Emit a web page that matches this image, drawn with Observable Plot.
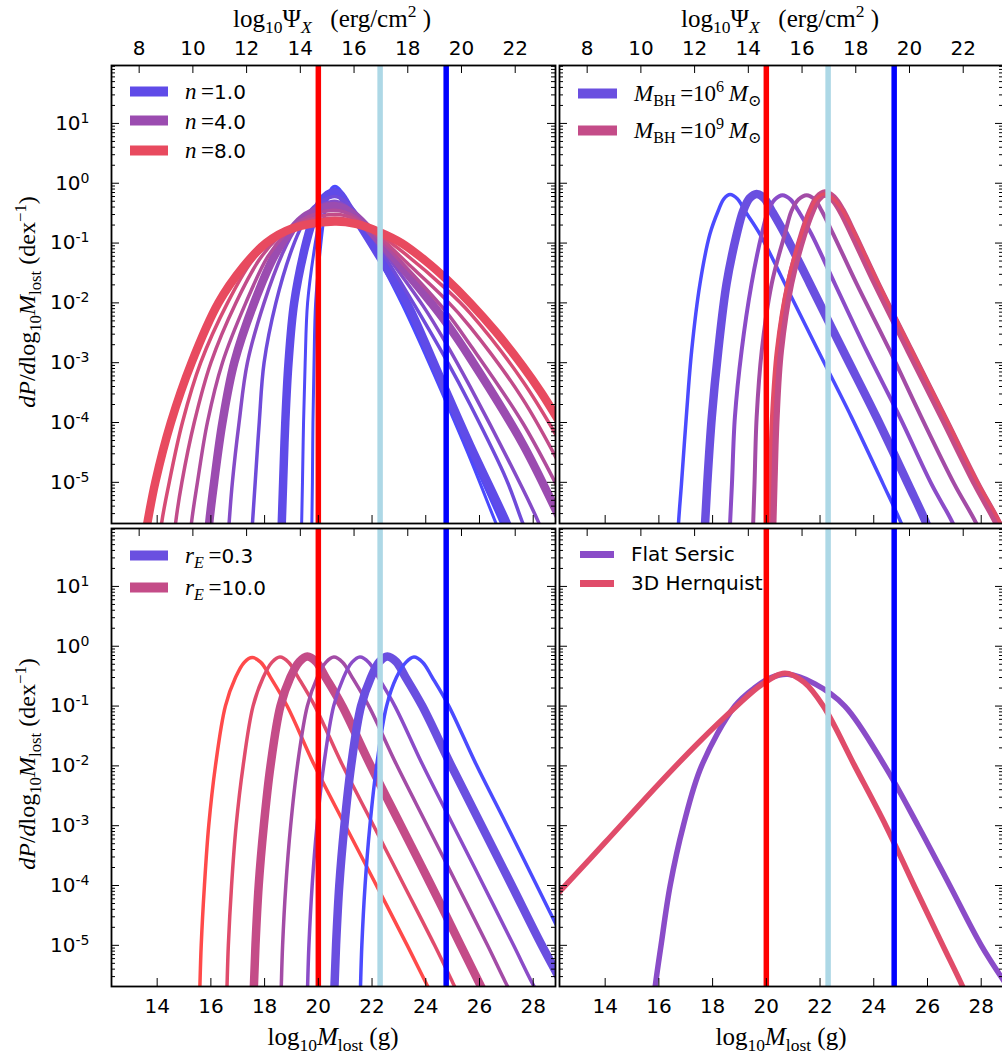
<!DOCTYPE html>
<html><head><meta charset="utf-8">
<script src="https://cdn.jsdelivr.net/npm/d3@7"></script>
<script src="https://cdn.jsdelivr.net/npm/@observablehq/plot@0.6"></script>
<style>
html,body{margin:0;padding:0;background:#fff;overflow:hidden;}
#wrap{position:relative;width:1002px;height:1059px;overflow:hidden;background:#fff;}
.panel{position:absolute;}
.m{font-family:"Liberation Serif","DejaVu Serif",serif;}
.s{font-family:"DejaVu Sans",sans-serif;}
.lbl{position:absolute;white-space:nowrap;color:#000;line-height:1;}
.lbl sub,.lbl sup,.row sub,.row sup{font-size:0.7em;line-height:0;}
.row{position:absolute;white-space:nowrap;display:flex;align-items:center;transform:translateY(-50%);line-height:1;}
.sw{display:inline-block;}
</style></head><body><div id="wrap"></div>
<script>
// ================= DATA =================
// shared axes
const xDomain = [12.3, 28.83];            // log10 M_lost (g)
const yDomain = [2.05e-6, 93];            // dP/dlog10 M_lost
const xTickValues = [14, 16, 18, 20, 22, 24, 26, 28];
const psiTickValues = [8, 10, 12, 14, 16, 18, 20, 22];
const psiShift = 5.33;                    // log10 M_lost - log10 Psi_X
const yMajorTicks = [1e-5, 1e-4, 1e-3, 1e-2, 1e-1, 1e0, 1e1];
const markerValues = [20.0, 22.3, 24.76]; // vertical reference lines

// Panel A (top-left): Sersic index n ; points are [log10 M_lost, log10 dP/dlogM]
const nSeries = ["n<1 a", "n<1 b", "n=1.0", "n=2", "n=3", "n=4.0", "n=5", "n=6", "n=7", "n=8.0"];
const nCurves = [
 [[19.74,-6.2],[19.76,-5.67],[19.78,-5],[19.8,-4],[19.84,-3],[19.9,-2],[20.09,-1.03],[20.23,-0.52],[20.38,-0.2],[20.5,-0.08],[20.62,-0.05],[20.75,-0.08],[20.9,-0.17],[21.1,-0.33],[21.5,-0.64],[22.3,-1.3],[23.15,-2.05],[24.0,-2.88],[24.76,-3.66],[25.65,-4.6],[26.6,-5.67],[26.9,-6.0]],
 [[19.36,-6.2],[19.38,-5.67],[19.41,-5],[19.45,-4],[19.51,-3],[19.6,-2],[19.87,-1.05],[20.07,-0.56],[20.25,-0.27],[20.42,-0.13],[20.6,-0.09],[20.75,-0.12],[20.9,-0.2],[21.1,-0.36],[21.5,-0.66],[22.3,-1.27],[23.25,-2.05],[24.1,-2.92],[24.76,-3.6],[25.65,-4.52],[26.8,-5.67],[27.1,-6.0]],
 [[18.6,-6.2],[18.64,-5.67],[18.69,-5],[18.77,-4],[18.89,-3],[19.1,-2],[19.5,-1.08],[19.8,-0.61],[20.07,-0.33],[20.35,-0.19],[20.6,-0.15],[20.8,-0.18],[20.95,-0.27],[21.1,-0.38],[21.5,-0.66],[22.3,-1.24],[23.35,-2.05],[24.2,-2.9],[24.76,-3.48],[25.65,-4.38],[27.0,-5.67],[27.3,-6.0]],
 [[17.48,-6.2],[17.55,-5.67],[17.65,-5],[17.8,-4],[17.98,-3],[18.42,-2],[19.01,-1.11],[19.44,-0.665],[19.83,-0.4],[20.6,-0.22],[21.0,-0.3],[21.5,-0.55],[22.3,-1.1],[23.6,-2.05],[24.76,-2.95],[25.65,-3.7],[27.0,-4.95],[27.6,-5.67],[27.9,-6.0]],
 [[16.6,-6.2],[16.68,-5.67],[16.8,-5],[17.05,-4],[17.36,-3],[17.98,-2],[18.69,-1.15],[19.2,-0.725],[19.68,-0.47],[20.6,-0.3],[21.0,-0.37],[21.6,-0.62],[22.3,-1.05],[23.9,-2.05],[24.76,-2.68],[25.65,-3.4],[27.6,-5.1],[28.2,-5.67],[28.5,-6.0]],
 [[15.85,-6.2],[15.94,-5.67],[16.12,-5],[16.43,-4],[16.87,-3],[17.61,-2],[18.38,-1.2],[18.98,-0.79],[19.55,-0.54],[20.6,-0.38],[21.3,-0.52],[22.3,-0.98],[23.2,-1.45],[24.2,-2.0],[24.76,-2.33],[25.65,-2.92],[27.6,-4.35],[28.83,-5.45],[29.1,-5.7]],
 [[15.18,-6.2],[15.28,-5.67],[15.5,-5],[15.87,-4],[16.43,-3],[17.3,-2],[18.1,-1.24],[18.75,-0.86],[19.4,-0.61],[20.6,-0.45],[21.4,-0.57],[22.3,-0.95],[23.3,-1.42],[24.76,-2.15],[25.65,-2.7],[27.6,-4.0],[29.1,-5.25]],
 [[14.58,-6.2],[14.69,-5.67],[14.92,-5],[15.38,-4],[16.0,-3],[16.93,-2],[17.8,-1.28],[18.5,-0.91],[19.25,-0.68],[20.6,-0.52],[21.4,-0.61],[22.3,-0.91],[23.3,-1.33],[24.76,-1.95],[25.65,-2.4],[27.6,-3.6],[29.1,-4.8]],
 [[14.05,-6.2],[14.17,-5.67],[14.45,-5],[14.94,-4],[15.62,-3],[16.62,-2],[17.5,-1.32],[18.28,-0.96],[19.1,-0.73],[20.6,-0.58],[21.4,-0.65],[22.3,-0.87],[23.2,-1.17],[24.76,-1.77],[25.65,-2.17],[27.6,-3.3],[29.1,-4.4]],
 [[13.45,-6.2],[13.64,-5.67],[13.93,-5.0],[14.51,-4.0],[15.28,-3.0],[16.28,-2.0],[17.2,-1.4],[18.05,-1.0],[19.0,-0.76],[20.6,-0.64],[21.4,-0.68],[22.3,-0.82],[23.1,-1.0],[24.0,-1.3],[24.76,-1.6],[25.65,-2.0],[26.6,-2.48],[27.6,-3.05],[28.3,-3.5],[29.1,-4.08]]
];

// Panel B (top-right): black hole mass
const mbhSeries = ["1e6", "1e6 thick", "1e7", "1e8", "1e9 thick", "1e9"];
const mbhCurves = [
 [[16.68,-6.2],[16.73,-5.69],[16.84,-5.03],[17.02,-3.91],[17.22,-2.80],[17.53,-1.68],[17.9,-0.85],[18.21,-0.46],[18.42,-0.26],[18.65,-0.19],[18.92,-0.26],[19.2,-0.46],[19.76,-0.85],[20.69,-1.68],[21.93,-2.80],[23.17,-3.91],[24.35,-5.03],[25.03,-5.69],[25.4,-6.1]],
 [[17.68,-6.2],[17.72,-5.69],[17.8,-5.03],[17.97,-3.91],[18.21,-2.80],[18.52,-1.68],[18.9,-0.85],[19.14,-0.46],[19.38,-0.25],[19.64,-0.18],[19.92,-0.25],[20.2,-0.46],[20.69,-0.85],[21.62,-1.68],[22.86,-2.80],[24.1,-3.91],[25.28,-5.03],[25.96,-5.69],[26.3,-6.1]],
 [[18.6,-6.2],[18.65,-5.69],[18.72,-5.03],[18.83,-3.91],[19.08,-2.80],[19.45,-1.68],[19.83,-0.85],[20.07,-0.46],[20.32,-0.27],[20.6,-0.2],[20.9,-0.27],[21.19,-0.46],[21.68,-0.85],[22.55,-1.68],[23.73,-2.80],[24.97,-3.91],[26.15,-5.03],[26.95,-5.69],[27.3,-6.1]],
 [[19.47,-6.2],[19.51,-5.69],[19.56,-5.03],[19.64,-3.91],[19.83,-2.80],[20.2,-1.68],[20.69,-0.85],[20.94,-0.46],[21.2,-0.27],[21.5,-0.2],[21.8,-0.27],[22.06,-0.46],[22.49,-0.85],[23.36,-1.68],[24.6,-2.80],[25.77,-3.91],[27.0,-5.03],[27.82,-5.69],[28.2,-6.1]],
 [[20.18,-6.2],[20.22,-5.69],[20.26,-5.03],[20.34,-3.91],[20.5,-2.80],[20.88,-1.68],[21.37,-0.85],[21.68,-0.46],[21.92,-0.25],[22.18,-0.17],[22.48,-0.25],[22.8,-0.46],[23.23,-0.85],[24.1,-1.68],[25.34,-2.80],[26.58,-3.91],[27.82,-5.03],[28.62,-5.69],[29.0,-6.1]],
 [[20.04,-6.2],[20.08,-5.69],[20.12,-5.03],[20.2,-3.91],[20.38,-2.80],[20.78,-1.68],[21.3,-0.85],[21.62,-0.46],[21.87,-0.26],[22.15,-0.18],[22.5,-0.26],[22.85,-0.46],[23.3,-0.85],[24.18,-1.68],[25.42,-2.80],[26.66,-3.91],[27.9,-5.03],[28.72,-5.69],[29.1,-6.1]]
];

// Panel C (bottom-left): r_E
const reSeries = ["r_E a", "r_E b", "r_E=10.0", "r_E c", "r_E d", "r_E=0.3", "r_E e"];
const reCurves = [
 [[15.56,-6.2],[15.59,-5.7],[15.64,-5.0],[15.76,-4],[15.92,-3],[16.17,-2],[16.54,-1],[16.92,-0.52],[17.24,-0.27],[17.54,-0.19],[17.86,-0.27],[18.22,-0.52],[18.84,-1],[19.83,-1.97],[20.95,-2.95],[22.13,-3.97],[23.31,-5.0],[24.0,-5.62],[24.3,-5.9]],
 [[16.57,-6.2],[16.6,-5.7],[16.65,-5],[16.77,-4],[16.94,-3],[17.2,-2],[17.57,-1],[17.95,-0.52],[18.27,-0.27],[18.57,-0.18],[18.9,-0.27],[19.25,-0.52],[19.87,-1],[20.88,-1.97],[22.0,-2.95],[23.16,-3.97],[24.33,-5.0],[25.0,-5.62],[25.3,-5.9]],
 [[17.57,-6.2],[17.6,-5.7],[17.66,-5],[17.78,-4],[17.97,-3],[18.22,-2],[18.59,-1],[18.96,-0.52],[19.29,-0.26],[19.59,-0.17],[19.92,-0.26],[20.27,-0.52],[20.89,-1],[21.92,-1.97],[23.02,-2.95],[24.17,-3.97],[25.3,-5.0],[25.98,-5.62],[26.3,-5.9]],
 [[18.59,-6.2],[18.62,-5.7],[18.67,-5],[18.79,-4],[18.97,-3],[19.22,-2],[19.59,-1],[19.96,-0.52],[20.28,-0.27],[20.58,-0.18],[20.91,-0.27],[21.26,-0.52],[21.88,-1],[22.9,-1.97],[24.0,-2.95],[25.15,-3.97],[26.3,-5.0],[26.97,-5.62],[27.3,-5.9]],
 [[19.57,-6.2],[19.6,-5.7],[19.65,-5],[19.77,-4],[19.95,-3],[20.2,-2],[20.57,-1],[20.94,-0.52],[21.25,-0.27],[21.55,-0.18],[21.88,-0.27],[22.23,-0.52],[22.85,-1],[23.87,-1.97],[24.97,-2.95],[26.12,-3.97],[27.27,-5.0],[27.95,-5.62],[28.3,-5.9]],
 [[20.57,-6.2],[20.6,-5.7],[20.66,-5],[20.78,-4],[20.97,-3],[21.22,-2],[21.59,-1],[21.96,-0.52],[22.27,-0.26],[22.57,-0.17],[22.9,-0.26],[23.25,-0.52],[23.87,-1],[24.92,-1.97],[26.02,-2.95],[27.17,-3.97],[28.32,-5.0],[29.1,-5.65]],
 [[21.54,-6.2],[21.57,-5.7],[21.62,-5],[21.74,-4],[21.92,-3],[22.17,-2],[22.54,-1],[22.91,-0.52],[23.26,-0.27],[23.56,-0.18],[23.89,-0.27],[24.24,-0.52],[24.86,-1],[25.87,-1.97],[26.97,-2.95],[28.1,-3.97],[29.2,-4.97]]
];

// Panel D (bottom-right): profile shapes
const profileSeries = ["Flat Sersic", "3D Hernquist"];
const profileCurves = [
 [[15.75,-6.2],[15.86,-5.7],[16.08,-5],[16.42,-4],[16.91,-3],[17.59,-2],[18.83,-1],[19.58,-0.69],[20.2,-0.52],[20.81,-0.47],[21.81,-0.63],[22.92,-1],[24.41,-2],[25.65,-3],[26.83,-4],[28.0,-5],[29.0,-5.7]],
 [[12.0,-4.25],[12.33,-4.09],[14.0,-3.28],[16.0,-2.3],[17.5,-1.6],[18.9,-1.0],[19.8,-0.65],[20.69,-0.45],[21.4,-0.6],[22.12,-1.0],[23.29,-2.0],[24.45,-3.0],[25.5,-4.0],[26.57,-5.0],[27.32,-5.7],[27.6,-6.0]]
];

// ================= STYLES =================
const markerColors = ["#ff0000", "#add8e6", "#0000ff"];
const nColors = ["#4a4aff","#5049f8","#5f4be8","#6f4bda","#854bc8","#9b4cb0","#b04c9c","#c24c8a","#d64c76","#e84a5f"];
const nWidths = [3, 3, 8.5, 3.5, 3.5, 8.5, 3.5, 3.5, 3.5, 8.5];
const mbhColors = ["#4b4bff","#6a4fe0","#8b4cc8","#a34ca6","#c44c88","#e24c66"];
const mbhWidths = [3.5, 8.5, 4, 4, 8.5, 3.5];
const reColors = ["#ff4a4a","#e04c6c","#c44c88","#a34ca6","#8b4cc8","#6a4fe0","#4b4bff"];
const reWidths = [3.5, 3.5, 8.5, 3.5, 3.5, 8.5, 3.5];
const profileColors = ["#8a4cc8", "#e04c6a"];
const profileWidths = [5.5, 5.5];

// ================= LAYOUT =================
const PW = 444, PH = 458, ML = 111, MR = 15, MT = 65, MB = 75;
const wrap = document.getElementById("wrap");

const yMinorTicks = d3.scaleLog().domain(yDomain).ticks()
  .filter(v => Math.abs(Math.log10(v) - Math.round(Math.log10(v))) > 1e-6 && v >= yDomain[0] && v <= yDomain[1]);
const psiPositions = psiTickValues.map(p => p + psiShift);

function makePanel({series, curves, colors, widths, left, top, yLabels, topLabels, bottomLabels}) {
  const table = [];
  curves.forEach((pts, i) => pts.forEach(([x, ly]) => table.push({series: series[i], x, y: 10 ** ly})));
  const marks = [];
  series.forEach((name, i) => {
    marks.push(Plot.line(table.filter(d => d.series === name), {
      x: "x", y: "y", stroke: colors[i], strokeWidth: widths[i],
      curve: "catmull-rom", clip: true, strokeLinejoin: "round", strokeLinecap: "butt"
    }));
  });
  markerValues.forEach((v, i) => marks.push(Plot.ruleX([v], {x: d => d, stroke: markerColors[i], strokeWidth: 5.5})));
  const tk = {stroke: "#000", strokeWidth: 1};
  marks.push(
    Plot.tickY(yMajorTicks, {y: d => d, insetRight: PW - 8, ...tk}),
    Plot.tickY(yMajorTicks, {y: d => d, insetLeft: PW - 8, ...tk}),
    Plot.tickY(yMinorTicks, {y: d => d, insetRight: PW - 4, ...tk}),
    Plot.tickY(yMinorTicks, {y: d => d, insetLeft: PW - 4, ...tk}),
    Plot.tickX(xTickValues, {x: d => d, insetTop: PH - 8, ...tk}),
    Plot.tickX(psiPositions, {x: d => d, insetBottom: PH - 8, ...tk}),
    Plot.frame({stroke: "#000", strokeWidth: 1.8})
  );
  if (yLabels) marks.push(Plot.axisY({ticks: yMajorTicks, tickSize: 0, tickPadding: 22,
    tickFormat: v => "10^" + Math.round(Math.log10(v)), label: null}));
  if (topLabels) marks.push(Plot.axisX({anchor: "top", ticks: psiPositions, tickSize: 0, tickPadding: 11,
    tickFormat: v => String(Math.round(v - psiShift)), label: null}));
  if (bottomLabels) marks.push(Plot.axisX({anchor: "bottom", ticks: xTickValues, tickSize: 0, tickPadding: 12,
    tickFormat: v => String(v), label: null}));
  const svg = Plot.plot({
    width: ML + PW + MR, height: MT + PH + MB,
    marginLeft: ML, marginRight: MR, marginTop: MT, marginBottom: MB,
    x: {domain: xDomain, axis: null},
    y: {type: "log", domain: yDomain, axis: null},
    style: {background: "transparent", overflow: "visible", fontFamily: "DejaVu Sans", fontSize: "20px", color: "#000"},
    marks
  });
  svg.querySelectorAll('g[aria-label="y-axis tick label"] text').forEach(t => {
    const m = t.textContent.match(/^10\^(.*)$/);
    if (m) {
      t.textContent = "10";
      const ts = document.createElementNS("http://www.w3.org/2000/svg", "tspan");
      ts.setAttribute("dy", "-0.5em");
      ts.setAttribute("font-size", "14px");
      ts.textContent = m[1];
      t.appendChild(ts);
    }
  });
  svg.classList.add("panel");
  svg.style.position = "absolute";
  svg.style.left = left + "px";
  svg.style.top = top + "px";
  wrap.appendChild(svg);
}

makePanel({series: nSeries, curves: nCurves, colors: nColors, widths: nWidths, left: 0, top: 0, yLabels: true, topLabels: true});
makePanel({series: mbhSeries, curves: mbhCurves, colors: mbhColors, widths: mbhWidths, left: 448, top: 0, topLabels: true});
makePanel({series: reSeries, curves: reCurves, colors: reColors, widths: reWidths, left: 0, top: 463, yLabels: true, bottomLabels: true});
makePanel({series: profileSeries, curves: profileCurves, colors: profileColors, widths: profileWidths, left: 448, top: 463, bottomLabels: true});

// ================= TEXT (axis titles & legends) =================
function addHTML(html) { const d = document.createElement("div"); d.innerHTML = html; while (d.firstChild) wrap.appendChild(d.firstChild); }
const topTitle = 'log<sub>10</sub>Ψ<sub><i>X</i></sub>&nbsp;&nbsp;&nbsp;(erg/cm<sup>2</sup>&nbsp;)';
const botTitle = 'log<sub>10</sub><i>M</i><sub>lost</sub> (g)';
const yTitle = '<i>dP</i>/<i>d</i>log<sub>10</sub><i>M</i><sub>lost</sub> (dex<sup>−1</sup>)';
addHTML(`<div class="lbl m" style="left:332px;top:18px;font-size:25px;transform:translate(-50%,-50%)">${topTitle}</div>`);
addHTML(`<div class="lbl m" style="left:780px;top:18px;font-size:25px;transform:translate(-50%,-50%)">${topTitle}</div>`);
addHTML(`<div class="lbl m" style="left:333px;top:1036px;font-size:25px;transform:translate(-50%,-50%)">${botTitle}</div>`);
addHTML(`<div class="lbl m" style="left:781px;top:1036px;font-size:25px;transform:translate(-50%,-50%)">${botTitle}</div>`);
addHTML(`<div class="lbl m" style="left:27px;top:302px;font-size:24px;transform:translate(-50%,-50%) rotate(-90deg)">${yTitle}</div>`);
addHTML(`<div class="lbl m" style="left:27px;top:764px;font-size:24px;transform:translate(-50%,-50%) rotate(-90deg)">${yTitle}</div>`);

function legendRow(x, y, color, w, h, html) {
  addHTML(`<div class="row" style="left:${x}px;top:${y}px"><span class="sw" style="width:${w}px;height:${h}px;background:${color}"></span><span style="margin-left:17px">${html}</span></div>`);
}
const nLegend = ["1.0", "4.0", "8.0"];
const nLegendColors = [nColors[2], nColors[5], nColors[9]];
nLegend.forEach((v, i) => legendRow(130, 91 + i * 29.5, nLegendColors[i], 38, 10,
  `<i class="m" style="font-size:23px">n</i><span class="m" style="font-size:23px">&thinsp;=</span><span class="s" style="font-size:20px">${v}</span>`));
const mbhLegend = ["6", "9"];
const mbhLegendColors = [mbhColors[1], mbhColors[4]];
mbhLegend.forEach((v, i) => legendRow(578, 93 + i * 37, mbhLegendColors[i], 39, 10,
  `<span class="m" style="font-size:23px"><i>M</i><sub>BH</sub>&thinsp;=10<sup>${v}</sup>&thinsp;<i>M</i><sub>⊙</sub></span>`));
const reLegend = ["0.3", "10.0"];
const reLegendColors = [reColors[5], reColors[2]];
reLegend.forEach((v, i) => legendRow(130, 555 + i * 32, reLegendColors[i], 38, 10,
  `<span class="m" style="font-size:23px"><i>r</i><sub><i>E</i></sub>&thinsp;=</span><span class="s" style="font-size:20px">${v}</span>`));
profileSeries.forEach((v, i) => legendRow(580, 554 + i * 29, profileColors[i], 34, 7,
  `<span class="s" style="font-size:20px">${v}</span>`));
</script></body></html>
